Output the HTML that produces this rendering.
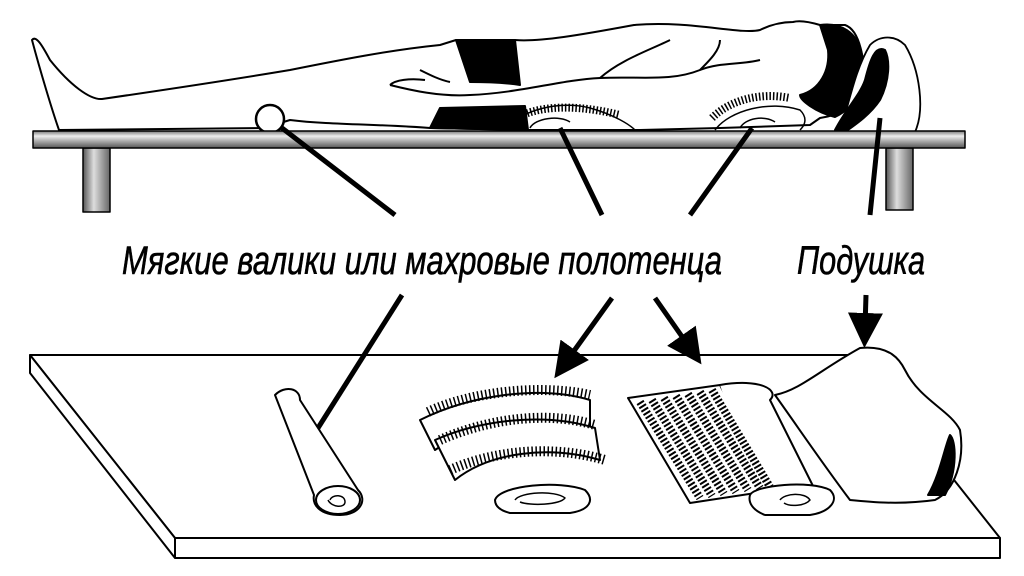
<!DOCTYPE html><html><head><meta charset="utf-8"><style>
html,body{margin:0;padding:0;background:#fff;width:1024px;height:576px;overflow:hidden}
</style></head><body>
<svg width="1024" height="576" viewBox="0 0 1024 576" xmlns="http://www.w3.org/2000/svg">
<defs>
<linearGradient id="bar" x1="0" y1="0" x2="0" y2="1">
<stop offset="0" stop-color="#777"/><stop offset=".3" stop-color="#eee"/><stop offset=".6" stop-color="#aaa"/><stop offset="1" stop-color="#555"/></linearGradient>
<linearGradient id="leg" x1="0" y1="0" x2="1" y2="0">
<stop offset="0" stop-color="#555"/><stop offset=".4" stop-color="#ddd"/><stop offset="1" stop-color="#666"/></linearGradient>
<marker id="ah" markerWidth="7" markerHeight="7" refX="3" refY="3.5" orient="auto" markerUnits="strokeWidth"><path d="M0,0 L7,3.5 L0,7 Z" fill="#000"/></marker>
</defs>
<g stroke="#000" stroke-width="2" fill="none" stroke-linejoin="round">
<rect x="83" y="148" width="27" height="64" fill="url(#leg)" stroke-width="1.5"/>
<rect x="886" y="148" width="27" height="62" fill="url(#leg)" stroke-width="1.5"/>
<path d="M59,130 C52,110 40,70 32,40 C36,35 42,45 50,60 C70,85 90,100 102,99 C150,92 230,80 290,70 C340,60 390,50 440,45 L456,40 L515,40 C540,42 580,35 634,25 C690,20 740,35 760,30 C770,25 780,22 793,22 C800,20 810,22 820,25 L845,25 C860,30 865,60 865,90 C860,105 840,115 820,118 L810,125 L720,128 L640,130 L530,130 L430,128 C380,124 330,125 290,120 L264,128 Z" fill="#fff"/>
<path d="M456,40 L515,40 L520,85 C500,82 480,82 470,82 Z" fill="#000"/>
<path d="M430,128 L440,108 L525,106 L528,130 Z" fill="#000"/>
<path d="M820,25 C840,22 858,32 862,55 C865,80 860,105 835,117 C815,112 800,100 800,95 C820,90 830,70 828,50 Z" fill="#000"/>
<path d="M390,85 C410,90 440,97 470,95 C520,93 560,80 600,78 C640,76 670,82 700,70 C720,62 740,65 760,60" />
<path d="M390,85 C395,80 410,78 425,80 M420,70 C430,75 440,80 450,82"/>
<path d="M600,78 C620,60 650,50 670,40 M700,70 C710,60 720,50 720,40"/>
<circle cx="270" cy="119" r="14" fill="#fff" stroke-width="2.5"/>
<path d="M505,130 C520,110 560,100 590,108 C615,115 630,125 635,130" stroke-width="1.5"/>
<path d="M510,125 C520,110 560,100 620,115" stroke-dasharray="1.5 2" stroke-width="8"/>
<path d="M530,128 C535,118 560,115 570,122" stroke-width="1.5"/>
<path d="M715,130 C730,110 770,100 800,110 C808,118 805,125 800,130" stroke-width="1.5"/>
<path d="M712,118 C730,100 760,92 790,98" stroke-dasharray="1.5 2" stroke-width="8"/>
<path d="M740,128 C745,118 765,115 775,122" stroke-width="1.5"/>
<path d="M840,132 C850,100 855,70 870,45 C880,35 895,35 905,45 C920,70 925,110 915,132 Z" fill="#fff" stroke-width="1.8"/>
<path d="M835,130 C845,110 860,95 865,80 C870,60 875,45 885,50 C890,60 890,80 880,100 C870,115 855,125 845,132 Z" fill="#000"/>
<rect x="33" y="131" width="932" height="17" fill="url(#bar)" stroke-width="1.5"/>
<path d="M30,355 L855,355 L1000,538 L175,538 Z" fill="#fff"/>
<path d="M30,355 L30,373 L175,558 L175,538 Z M175,538 L175,558 L1000,558 L1000,538 Z" fill="#fff"/>
<path d="M275,395 C285,385 300,388 300,400 L358,490 C368,500 360,515 340,515 C320,515 312,505 314,495 Z" fill="#fff"/>
<ellipse cx="338" cy="500" rx="22" ry="14" fill="#fff"/>
<path d="M330,500 C332,494 345,494 345,502 C345,508 332,508 328,500" stroke-width="1.5"/>
<path d="M495,500 C500,485 560,480 585,490 C595,500 590,510 570,513 L510,513 C498,510 495,505 495,500 Z" fill="#fff"/>
<path d="M515,500 C520,492 555,490 565,498 C560,505 530,506 520,502" stroke-width="1.5"/>
<path d="M420,420 C470,395 540,385 590,400 L590,430 C540,415 470,425 435,450 Z" fill="#fff"/>
<path d="M428,412 C470,392 540,384 590,395" stroke-dasharray="1.5 2.5" stroke-width="10"/>
<path d="M435,440 C480,420 545,412 595,428 L600,460 C550,445 490,452 455,480 Z" fill="#fff"/>
<path d="M440,440 C485,420 545,410 595,425" stroke-dasharray="1.5 2.5" stroke-width="10"/>
<path d="M450,470 C495,450 555,445 605,460" stroke-dasharray="1.5 2.5" stroke-width="10"/>
<path d="M628,398 L720,385 L775,490 L690,503 Z" fill="#fff"/>
<path d="M720,385 C760,378 780,390 770,400 L815,490 C820,505 800,515 780,510 L760,500" fill="#fff"/>
<path d="M640,402 L700,498 M652,400 L712,496 M664,398 L724,494 M676,396 L736,492 M688,394 L748,490 M700,392 L760,488 M712,390 L770,487" stroke-dasharray="2 2" stroke-width="8"/>
<path d="M750,495 C755,485 810,480 830,490 C840,500 830,512 810,515 L765,515 C752,510 748,502 750,495 Z" fill="#fff"/>
<path d="M780,500 C785,493 805,492 810,500 C805,506 790,507 784,503" stroke-width="1.5"/>
<path d="M775,395 C800,390 820,370 860,348 C890,345 900,360 905,370 C920,400 950,410 960,430 C965,460 955,490 935,500 C900,505 870,502 850,500 C820,460 800,430 775,395 Z" fill="#fff"/>
<path d="M928,495 C940,475 945,445 950,435 C956,440 958,470 945,495 Z" fill="#000"/>
</g>
<g stroke="#000" stroke-width="5" fill="none" stroke-linecap="butt">
<line x1="282" y1="128" x2="395" y2="215"/>
<line x1="560" y1="128" x2="602" y2="215"/>
<line x1="752" y1="128" x2="690" y2="215"/>
<line x1="880" y1="118" x2="870" y2="215"/>
<line x1="402" y1="295" x2="318" y2="428"/>
<line x1="612" y1="298" x2="566" y2="362" marker-end="url(#ah)"/>
<line x1="655" y1="298" x2="690" y2="348" marker-end="url(#ah)"/>
<line x1="866" y1="295" x2="865" y2="328" marker-end="url(#ah)"/>
</g>
<g font-family="'Liberation Sans Narrow','Liberation Sans',sans-serif" font-style="italic" font-size="40" fill="#000" stroke="#000" stroke-width="0.6">
<text x="122" y="274" textLength="600" lengthAdjust="spacingAndGlyphs">Мягкие валики или махровые полотенца</text>
<text x="797" y="274" textLength="128" lengthAdjust="spacingAndGlyphs">Подушка</text>
</g>
</svg>
</body></html>
